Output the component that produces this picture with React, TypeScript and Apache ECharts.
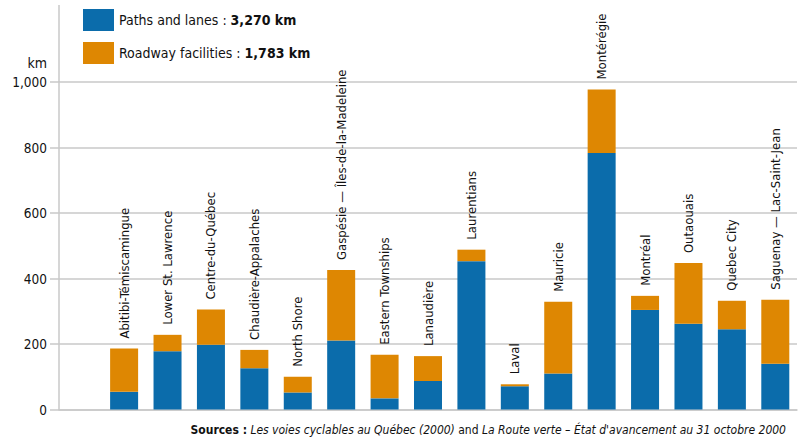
import React, { useEffect, useRef } from "react";
import * as echarts from "echarts";

const regions = [
  "",
  "Abitibi-Témiscamingue",
  "Lower St. Lawrence",
  "Centre-du-Québec",
  "Chaudière-Appalaches",
  "North Shore",
  "Gaspésie — Îles-de-la-Madeleine",
  "Eastern Townships",
  "Lanaudière",
  "Laurentians",
  "Laval",
  "Mauricie",
  "Montérégie",
  "Montréal",
  "Outaouais",
  "Quebec City",
  "Saguenay — Lac-Saint-Jean",
];
const pathsAndLanes = [null, 54, 178, 198, 126, 52, 211, 34, 87, 453, 71, 110, 783, 304, 262, 245, 140];
const roadwayFacilities = [null, 132, 50, 107, 56, 48, 215, 133, 76, 35, 6, 219, 194, 43, 185, 87, 195];
const seriesNames = ["Paths and lanes", "Roadway facilities"];
const seriesTotals = ["3,270 km", "1,783 km"];
const yTicks = { min: 0, max: 1000, interval: 200 };

const FONT = "'Liberation Sans Narrow', 'DejaVu Sans Condensed', 'Roboto', sans-serif";
const BLUE = "#0b6cab";
const ORANGE = "#de8702";
const GRID = "#c9c9c9";
const TXT = "#111";

export default function App() {
  const ref = useRef<HTMLDivElement>(null);
  useEffect(() => {
    if (!ref.current) return;
    const chart = echarts.init(ref.current, null, { renderer: "svg" });
    chart.setOption({
      animation: false,
      textStyle: { fontFamily: FONT },
      title: {
        right: 18,
        bottom: 4,
        padding: 0,
        text: "{b|Sources :} {i|Les voies cyclables au Québec (2000)}{n| and }{i|La Route verte – État d'avancement au 31 octobre 2000}",
        textStyle: {
          fontFamily: FONT,
          fontWeight: "normal",
          fontSize: 12,
          rich: {
            b: { fontFamily: FONT, fontSize: 12, color: TXT, fontWeight: "bold" },
            i: { fontFamily: FONT, fontSize: 12, color: TXT, fontStyle: "italic", fontWeight: "normal" },
            n: { fontFamily: FONT, fontSize: 12, color: TXT, fontWeight: "normal" },
          },
        },
      },
      legend: {
        orient: "vertical",
        left: 83,
        top: 9,
        padding: 0,
        itemWidth: 31,
        itemHeight: 22,
        itemGap: 11,
        icon: "rect",
        data: seriesNames,
        formatter: (name: string) => {
          const i = seriesNames.indexOf(name);
          return `{a|${name} : }{b|${seriesTotals[i]}}`;
        },
        textStyle: {
          fontFamily: FONT,
          rich: {
            a: { fontFamily: FONT, fontSize: 14, color: TXT },
            b: { fontFamily: FONT, fontSize: 14, color: TXT, fontWeight: "bold" },
          },
        },
      },
      grid: { left: 59, right: 7, top: 82, bottom: 30.5, containLabel: false },
      xAxis: {
        type: "category",
        data: regions,
        axisLine: { show: true, lineStyle: { color: GRID, width: 1.5 } },
        axisTick: { show: false },
        axisLabel: { show: false },
      },
      yAxis: {
        type: "value",
        min: yTicks.min,
        max: yTicks.max,
        interval: yTicks.interval,
        name: "km",
        nameLocation: "end",
        nameGap: 12,
        nameTextStyle: { fontFamily: FONT, fontSize: 14, color: TXT, align: "right", padding: [0, 12, 0, 0] },
        axisLine: { show: true, lineStyle: { color: GRID, width: 1.5 } },
        axisTick: { show: true, length: 9, lineStyle: { color: GRID, width: 1.5 } },
        axisLabel: {
          margin: 12,
          fontFamily: FONT,
          fontSize: 13.5,
          color: TXT,
          formatter: (v: number) => v.toLocaleString("en-US"),
        },
        splitLine: { show: true, lineStyle: { color: GRID, width: 1.5 } },
      },
      graphic: [
        {
          type: "line",
          shape: { x1: 59, y1: 5, x2: 59, y2: 82 },
          style: { stroke: GRID, lineWidth: 1.5 },
          silent: true,
        },
      ],
      series: [
        {
          name: seriesNames[0],
          type: "bar",
          stack: "total",
          barWidth: 28,
          itemStyle: { color: BLUE },
          data: pathsAndLanes,
        },
        {
          name: seriesNames[1],
          type: "bar",
          stack: "total",
          barWidth: 28,
          itemStyle: { color: ORANGE },
          data: roadwayFacilities,
          label: {
            show: true,
            position: "top",
            rotate: 90,
            align: "left",
            verticalAlign: "middle",
            distance: 10,
            fontFamily: FONT,
            fontSize: 13,
            color: TXT,
            formatter: (p: any) => regions[p.dataIndex],
          },
        },
      ],
    });
    return () => chart.dispose();
  }, []);
  return <div ref={ref} style={{ width: 804, height: 440, position: "absolute", left: 0, top: 0 }} />;
}
